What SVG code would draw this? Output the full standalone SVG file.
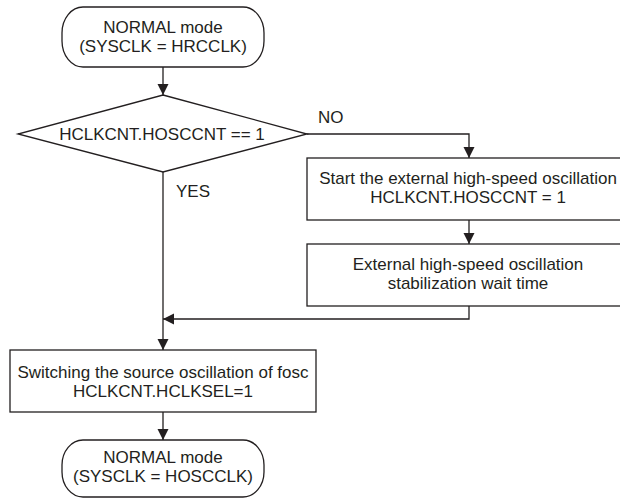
<svg xmlns="http://www.w3.org/2000/svg" width="620" height="498" viewBox="0 0 620 498">
<style>
.s{fill:#fff;stroke:#231f20;stroke-width:1.3}
.t{font-family:"Liberation Sans",Arial,sans-serif;font-size:17px;fill:#231f20;text-anchor:middle}
.l{font-family:"Liberation Sans",Arial,sans-serif;font-size:17px;fill:#231f20}
.c{fill:none;stroke:#231f20;stroke-width:1.3}
</style>
<defs>
<marker id="a" markerUnits="userSpaceOnUse" markerWidth="12" markerHeight="12" refX="11" refY="5.5" orient="auto">
<path d="M0,0 L11,5.5 L0,11 z" fill="#231f20"/>
</marker>
</defs>
<rect width="620" height="498" fill="#fff"/>
<g id="connectors">
<path class="c" d="M163,67 V95" marker-end="url(#a)"/>
<path class="c" d="M307,134 H469 V158" marker-end="url(#a)"/>
<path class="c" d="M469,220 V244" marker-end="url(#a)"/>
<path class="c" d="M469,306 V319 H163" marker-end="url(#a)"/>
<path class="c" d="M163,172 V350" marker-end="url(#a)"/>
<path class="c" d="M163,412 V440" marker-end="url(#a)"/>
<text class="l" x="318" y="123">NO</text>
<text class="l" x="176" y="197">YES</text>
</g>
<g id="start">
<rect class="s" x="62" y="7" width="202" height="60" rx="21" ry="26"/>
<text class="t" x="163" y="33">NORMAL mode</text>
<text class="t" x="163" y="52">(SYSCLK = HRCCLK)</text>
</g>
<g id="decision">
<polygon class="s" points="163,95 307,134 163,172 18,134"/>
<text class="t" x="162" y="140">HCLKCNT.HOSCCNT == 1</text>
</g>
<g id="startosc">
<rect class="s" x="307" y="158" width="324" height="62"/>
<text class="t" x="468" y="184">Start the external high-speed oscillation</text>
<text class="t" x="468" y="203">HCLKCNT.HOSCCNT = 1</text>
</g>
<g id="wait">
<rect class="s" x="307" y="244" width="324" height="62"/>
<text class="t" x="468" y="270">External high-speed oscillation</text>
<text class="t" x="468" y="289">stabilization wait time</text>
</g>
<g id="switch">
<rect class="s" x="10" y="350" width="306" height="62"/>
<text class="t" x="163" y="378">Switching the source oscillation of fosc</text>
<text class="t" x="163" y="397">HCLKCNT.HCLKSEL=1</text>
</g>
<g id="end">
<rect class="s" x="62" y="440" width="202" height="57" rx="21" ry="25"/>
<text class="t" x="163" y="463">NORMAL mode</text>
<text class="t" x="163" y="482">(SYSCLK = HOSCCLK)</text>
</g>
</svg>
